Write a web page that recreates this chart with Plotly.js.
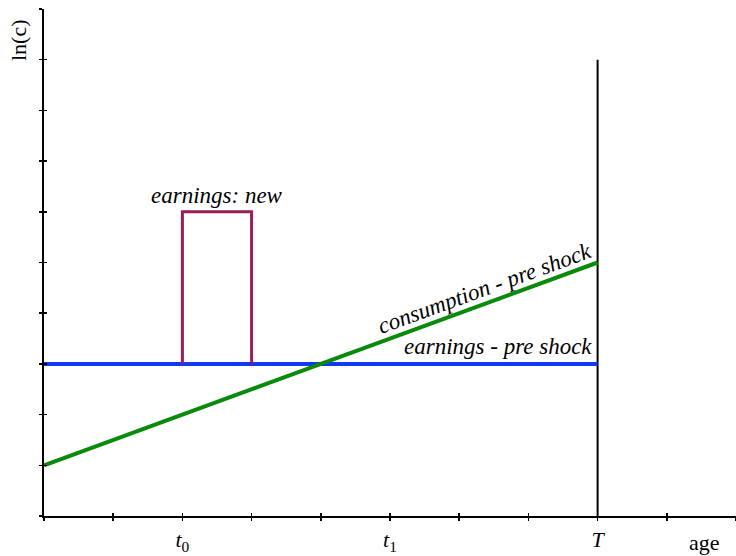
<!DOCTYPE html>
<html>
<head>
<meta charset="utf-8">
<script src="https://cdn.plot.ly/plotly-3.0.1.min.js"></script>
<style>html,body{margin:0;padding:0;background:#fff;}#chart{width:736px;height:556px;}</style>
</head>
<body>
<div id="chart"></div>
<script>
// Data
const tickPositions = [0,1,2,3,4,5,6,7,8,9,10];
const tickLabels = ['', '', '<i>t</i><sub>0</sub>', '', '', '<i>t</i><sub>1</sub>', '', '', '<i>T</i>', '', ''];
const earningsPreX = [0, 8];
const earningsPreY = [3, 3];
const consumptionPreX = [0, 8];
const consumptionPreY = [1, 5];
const earningsNewX = [2, 2, 3, 3];
const earningsNewY = [3, 6, 6, 3];
const horizonX = [8, 8];
const horizonY = [0, 9];

const serif = 'Liberation Serif';

const traces = [
  {x: horizonX, y: horizonY, mode: 'lines', line: {color: '#000', width: 2}, hoverinfo: 'skip'},
  {x: earningsPreX, y: earningsPreY, mode: 'lines', line: {color: '#1238f5', width: 4}, hoverinfo: 'skip'},
  {x: consumptionPreX, y: consumptionPreY, mode: 'lines', line: {color: '#0a8a0a', width: 4}, hoverinfo: 'skip'},
  {x: earningsNewX, y: earningsNewY, mode: 'lines', line: {color: '#991f57', width: 3}, hoverinfo: 'skip'},
  {x: [0], y: [0], xaxis: 'x2', yaxis: 'y2', mode: 'markers', marker: {opacity: 0}, hoverinfo: 'skip'}
];

const axisCommon = {
  range: [0, 10], showgrid: false, zeroline: false, fixedrange: true,
  tickmode: 'array', tickvals: tickPositions, tickcolor: '#000', tickwidth: 1.5
};

const italicFont = {family: serif, size: 23, color: '#000', style: 'italic'};

const layout = {
  width: 736, height: 556,
  margin: {l: 44, r: 0, t: 9, b: 40},
  paper_bgcolor: '#fff', plot_bgcolor: '#fff',
  showlegend: false,
  font: {family: serif, color: '#000', size: 20},
  xaxis: Object.assign({}, axisCommon, {
    showline: true, linecolor: '#000', linewidth: 2,
    ticks: 'outside', ticklen: 3, ticktext: tickLabels,
    tickfont: {family: serif, size: 22, color: '#000'}
  }),
  yaxis: Object.assign({}, axisCommon, {
    showline: true, linecolor: '#000', linewidth: 2,
    ticks: 'outside', ticklen: 3, showticklabels: false
  }),
  xaxis2: Object.assign({}, axisCommon, {
    overlaying: 'x', ticks: 'inside', ticklen: 3, showticklabels: false, showline: false
  }),
  yaxis2: Object.assign({}, axisCommon, {
    overlaying: 'y', ticks: 'inside', ticklen: 3, showticklabels: false, showline: false
  }),
  annotations: [
    {x: 2.5, y: 6, xref: 'x', yref: 'y', xanchor: 'center', yanchor: 'bottom', yshift: 2, showarrow: false,
     text: 'earnings: new', font: italicFont},
    {x: 7.95, y: 3, xref: 'x', yref: 'y', xanchor: 'right', yanchor: 'bottom', yshift: 3, showarrow: false,
     text: 'earnings - pre shock', font: italicFont},
    {x: 6.36, y: 4.49, xref: 'x', yref: 'y', xanchor: 'center', yanchor: 'middle', showarrow: false, textangle: -20,
     text: 'consumption - pre shock', font: italicFont},
    {x: 0.955, y: -0.053, xref: 'paper', yref: 'paper', xanchor: 'center', yanchor: 'middle', showarrow: false,
     text: 'age', font: {family: serif, size: 22, color: '#000'}},
    {x: -0.036, y: 0.939, xref: 'paper', yref: 'paper', xanchor: 'center', yanchor: 'middle', showarrow: false, textangle: -90,
     text: 'ln(c)', font: {family: serif, size: 22, color: '#000'}}
  ]
};

Plotly.newPlot('chart', traces, layout, {displayModeBar: false, staticPlot: true});
</script>
</body>
</html>
